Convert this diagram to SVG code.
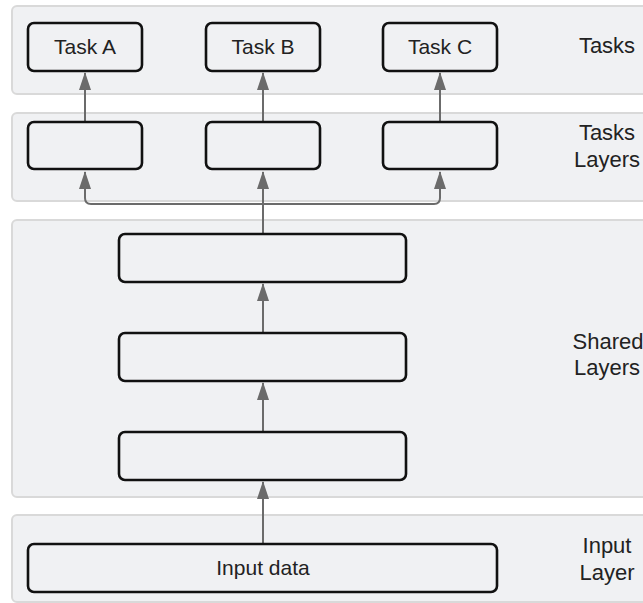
<svg xmlns="http://www.w3.org/2000/svg" width="643" height="603" viewBox="0 0 643 603">
<style>
.band{fill:#f0f1f3;stroke:#d9d9d9;stroke-width:2}
.box{fill:#f0f1f3;stroke:#111;stroke-width:2.6}
.t{font-family:"Liberation Sans",Arial,sans-serif;font-size:21px;fill:#222;text-anchor:middle}
.lbl{font-family:"Liberation Sans",Arial,sans-serif;font-size:22px;fill:#222;text-anchor:middle}
.c{fill:none;stroke:#6b6b6b;stroke-width:2}
</style>
<defs>
<marker id="ah" viewBox="0 0 18 12" refX="17" refY="6" markerWidth="18" markerHeight="12" markerUnits="userSpaceOnUse" orient="auto">
<path d="M0 0 L18 6 L0 12 Z" fill="#6b6b6b"/>
</marker>
</defs>
<g id="bands">
<rect class="band" x="12" y="6" width="650" height="88" rx="5"/>
<rect class="band" x="12" y="113" width="650" height="88" rx="5"/>
<rect class="band" x="12" y="220" width="650" height="277" rx="5"/>
<rect class="band" x="12" y="515" width="650" height="87" rx="5"/>
</g>
<g id="band-labels">
<text class="lbl" x="607" y="53">Tasks</text>
<text class="lbl" x="607" y="140">Tasks</text>
<text class="lbl" x="607" y="167">Layers</text>
<text class="lbl" x="608" y="349">Shared</text>
<text class="lbl" x="607" y="375">Layers</text>
<text class="lbl" x="607" y="553">Input</text>
<text class="lbl" x="607" y="580">Layer</text>
</g>
<g id="connectors">
<path class="c" d="M85 122 V73" marker-end="url(#ah)"/>
<path class="c" d="M263 122 V73" marker-end="url(#ah)"/>
<path class="c" d="M440 122 V73" marker-end="url(#ah)"/>
<path class="c" d="M263 233 V172" marker-end="url(#ah)"/>
<path class="c" d="M263 204 H91 Q85 204 85 198 V172" marker-end="url(#ah)"/>
<path class="c" d="M263 204 H434 Q440 204 440 198 V172" marker-end="url(#ah)"/>
<path class="c" d="M263 333 V284" marker-end="url(#ah)"/>
<path class="c" d="M263 432 V383" marker-end="url(#ah)"/>
<path class="c" d="M263 544 V482" marker-end="url(#ah)"/>
</g>
<g id="task-a"><rect class="box" x="28" y="23" width="114" height="48" rx="6"/><text class="t" x="85" y="54">Task A</text></g>
<g id="task-b"><rect class="box" x="206" y="23" width="114" height="48" rx="6"/><text class="t" x="263" y="54">Task B</text></g>
<g id="task-c"><rect class="box" x="383" y="23" width="114" height="48" rx="6"/><text class="t" x="440" y="54">Task C</text></g>
<g id="task-layer-a"><rect class="box" x="28" y="122" width="114" height="47" rx="6"/></g>
<g id="task-layer-b"><rect class="box" x="206" y="122" width="114" height="47" rx="6"/></g>
<g id="task-layer-c"><rect class="box" x="383" y="122" width="114" height="47" rx="6"/></g>
<g id="shared-1"><rect class="box" x="119" y="234" width="287" height="48" rx="6"/></g>
<g id="shared-2"><rect class="box" x="119" y="333" width="287" height="48" rx="6"/></g>
<g id="shared-3"><rect class="box" x="119" y="432" width="287" height="48" rx="6"/></g>
<g id="input-data"><rect class="box" x="28" y="544" width="469" height="48" rx="6"/><text class="t" x="263" y="575">Input data</text></g>
</svg>
